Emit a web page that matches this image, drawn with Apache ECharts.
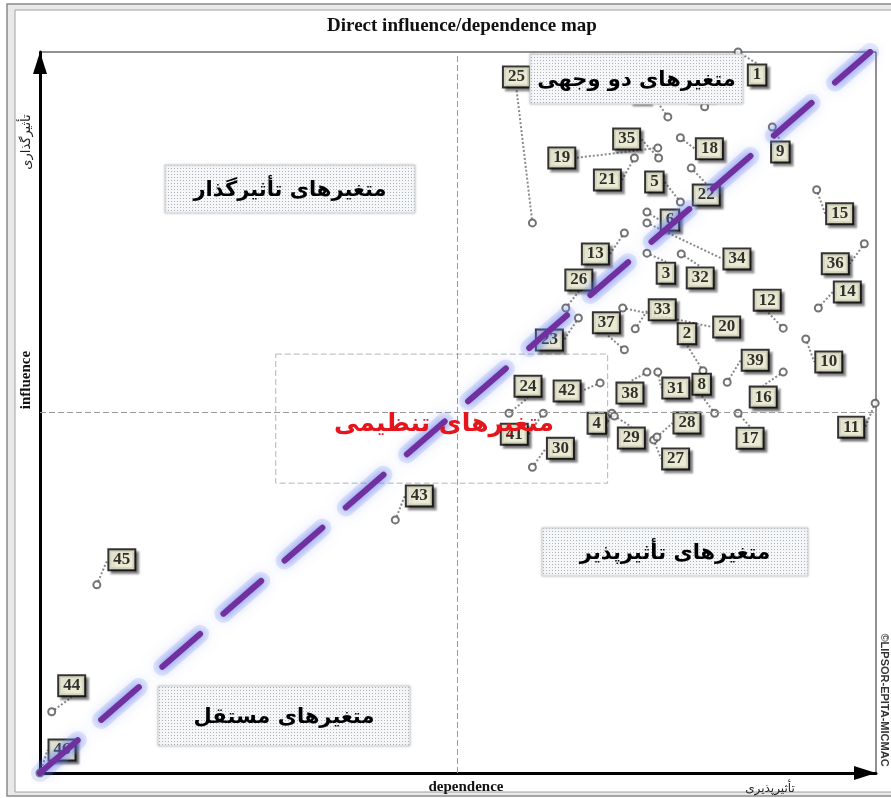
<!DOCTYPE html>
<html>
<head>
<meta charset="utf-8">
<title>Direct influence/dependence map</title>
<script src="https://cdn.jsdelivr.net/npm/echarts@6/dist/echarts.min.js"></script>
<style>
  html, body { margin: 0; padding: 0; background: #fff; }
  #chart { width: 891px; height: 798px; }
</style>
</head>
<body>
<div id="chart"></div>
<script>
// variables of the MICMAC analysis (0..100 scale)
const variables = ['1','2','3','4','5','6','7','8','9','10','11','12','13','14','15','16','17','18','19','20','21','22','23','24','25','26','27','28','29','30','31','32','33','34','35','36','37','38','39','40','41','42','43','44','45','46'];
const dependence = [83.5,79.3,72.6,68.4,76.6,72.6,75.1,80.7,87.6,91.6,99.9,88.9,69.9,93.1,92.9,88.9,83.5,76.6,73.9,69.7,71.1,77.9,64.4,56.1,58.9,62.9,73.4,73.8,68.7,58.9,73.9,76.7,71.2,72.6,74.0,98.6,69.9,72.6,82.2,79.5,60.2,67.0,42.5,1.4,6.8,0.0];
const influence  = [100.0,55.8,72.1,49.9,79.2,77.8,91.0,49.9,89.6,60.2,51.3,61.7,74.9,64.5,80.9,55.6,49.9,88.1,86.7,64.5,85.3,83.9,63.1,49.9,76.3,64.5,46.2,46.6,49.5,42.4,55.6,72.0,61.6,76.3,85.3,73.4,58.7,55.6,54.2,92.4,49.9,54.1,35.1,8.5,26.1,0.0];
const meanDependence = 49.9;
const meanInfluence = 50.1;
const diagonal = [[0, 0], [99.3, 100]];
const regulatoryZone = [[28.2, 58.1], [67.9, 40.2]];

// where each number box sits relative to its point (px)
const labelShift = [
  [19,23],[-16,-37],[19,20],[-15,10],[-26,-20],[23,8],[-28,-25],[-13,-29],[8,25],[23,23],
  [-24,24],[-16,-28],[-29,21],[29,-16],[23,24],[-20,25],[12,25],[29,11],[-96,10],[104,19],
  [-27,22],[15,27],[-29,22],[19,-27],[-16,-146],[13,-28],[22,19],[30,-14],[17,22],[28,-19],
  [18,16],[19,24],[27,-19],[90,36],[-32,-19],[-29,20],[-18,-27],[-17,21],[28,-22],[-5,-17],
  [-29,21],[-33,8],[24,-24],[20,-26],[25,-25],[22,-23]
];

const quadrantBoxes = [
  { text: 'متغیرهای دو وجهی', x: 530, y: 54, w: 213, h: 50 },
  { text: 'متغیرهای تأثیرگذار', x: 165, y: 165, w: 250, h: 48 },
  { text: 'متغیرهای تأثیرپذیر', x: 542, y: 528, w: 266, h: 48 },
  { text: 'متغیرهای مستقل', x: 158, y: 686, w: 252, h: 60 }
];

// dotted fill like the original text boxes
const pat = document.createElement('canvas');
pat.width = 3; pat.height = 3;
const pc = pat.getContext('2d');
pc.fillStyle = '#f4f6f8'; pc.fillRect(0, 0, 3, 3);
pc.fillStyle = '#aeb3b8'; pc.fillRect(0, 0, 1, 1);

const points = variables.map((v, i) => ({ name: v, value: [dependence[i], influence[i]] }));

const graphics = [
  { type: 'rect', z: -10, shape: { x: 7, y: 4, width: 900, height: 792 },
    style: { fill: '#e9e9e9', stroke: '#8a8a8a', lineWidth: 1.5 } },
  { type: 'rect', z: -9, shape: { x: 15, y: 10, width: 890, height: 782 },
    style: { fill: '#fff', stroke: '#a0a0a0', lineWidth: 1 } },
  { type: 'text', z: 50, x: 27, y: 142, rotation: Math.PI / 2,
    style: { text: 'تأثیرگذاری', font: '13px "DejaVu Sans"', fill: '#222', align: 'center', verticalAlign: 'middle' } },
  { type: 'text', z: 50, x: 26, y: 380, rotation: Math.PI / 2,
    style: { text: 'influence', font: 'bold 15px "Liberation Serif"', fill: '#111', align: 'center', verticalAlign: 'middle' } },
  { type: 'text', z: 50, x: 466, y: 787,
    style: { text: 'dependence', font: 'bold 15px "Liberation Serif"', fill: '#111', align: 'center', verticalAlign: 'middle' } },
  { type: 'text', z: 50, x: 770, y: 789,
    style: { text: 'تأثیرپذیری', font: '12px "DejaVu Sans"', fill: '#222', align: 'center', verticalAlign: 'middle' } },
  { type: 'text', z: 50, x: 884, y: 700, rotation: -Math.PI / 2,
    style: { text: '©LIPSOR-EPITA-MICMAC', font: 'bold 11px "Liberation Sans"', fill: '#333', align: 'center', verticalAlign: 'middle' } },
  { type: 'text', z: 110, x: 444, y: 424,
    style: { text: 'متغیرهای تنظیمی', font: 'bold 25px "DejaVu Sans"', fill: '#e8141c', align: 'center', verticalAlign: 'middle' } }
];
quadrantBoxes.forEach(function (b) {
  graphics.push({ type: 'rect', z: 100, shape: { x: b.x, y: b.y, width: b.w, height: b.h },
    style: { fill: { image: pat, repeat: 'repeat' }, stroke: '#d0d4d8', lineWidth: 1,
      shadowColor: 'rgba(0,0,0,0.15)', shadowBlur: 3 } });
  graphics.push({ type: 'text', z: 101, x: b.x + b.w / 2, y: b.y + b.h / 2 + 2,
    style: { text: b.text, font: 'bold 21px "DejaVu Sans"', fill: '#000', align: 'center', verticalAlign: 'middle' } });
});

const dashStyle = [50, 31];

const myChart = echarts.init(document.getElementById('chart'));
myChart.setOption({
  backgroundColor: '#fff',
  animation: false,
  title: {
    text: 'Direct influence/dependence map',
    left: 457, top: 12, textAlign: 'center',
    textStyle: { fontFamily: 'Liberation Serif', fontWeight: 'bold', fontSize: 19, color: '#111' }
  },
  grid: { left: 40, right: 15, top: 52, bottom: 25, show: true, borderColor: '#222', borderWidth: 1 },
  xAxis: {
    type: 'value', min: 0, max: 100,
    axisLine: { show: true, symbol: ['none', 'triangle'], symbolSize: [14, 22], symbolOffset: [0, -11],
      lineStyle: { color: '#000', width: 3 } },
    axisTick: { show: false }, axisLabel: { show: false }, splitLine: { show: false }
  },
  yAxis: {
    type: 'value', min: 0, max: 100,
    axisLine: { show: true, symbol: ['none', 'triangle'], symbolSize: [14, 22], symbolOffset: [0, -11],
      lineStyle: { color: '#000', width: 3 } },
    axisTick: { show: false }, axisLabel: { show: false }, splitLine: { show: false }
  },
  graphic: graphics,
  series: [
    {
      type: 'scatter',
      z: 2,
      data: points,
      symbol: 'emptyCircle',
      symbolSize: 7,
      itemStyle: { color: '#505050', borderWidth: 1.6 },
      label: {
        show: true,
        position: 'inside',
        formatter: '{b}',
        fontFamily: 'Liberation Serif',
        fontWeight: 'bold',
        fontSize: 17,
        color: '#000',
        backgroundColor: '#ffffe4',
        borderColor: '#000',
        borderWidth: 2,
        padding: [2, 4, 0, 4],
        shadowColor: 'rgba(0,0,0,0.5)',
        shadowBlur: 2,
        shadowOffsetX: 3,
        shadowOffsetY: 3
      },
      labelLayout: function (params) {
        const s = labelShift[params.dataIndex];
        return { dx: s[0], dy: s[1] };
      },
      labelLine: { show: true, lineStyle: { color: '#8a8a8a', width: 2, type: [2, 2] } },
      markLine: {
        silent: true,
        symbol: ['none', 'none'],
        label: { show: false },
        lineStyle: { color: '#9a9a9a', type: [6, 3], width: 1 },
        data: [{ xAxis: meanDependence }, { yAxis: meanInfluence }]
      },
      markArea: {
        silent: true,
        itemStyle: { color: 'rgba(0,0,0,0)', borderColor: '#b5b5b5', borderWidth: 1, borderType: [6, 3] },
        data: [[{ coord: regulatoryZone[0] }, { coord: regulatoryZone[1] }]]
      }
    },
    {
      // soft blue halo behind the diagonal
      type: 'line',
      z: 4,
      data: diagonal,
      symbol: 'none',
      silent: true,
      lineStyle: {
        color: 'rgba(130,150,235,0.2)', width: 18, type: dashStyle, cap: 'round',
        shadowColor: 'rgba(100,130,240,0.55)', shadowBlur: 16
      }
    },
    {
      type: 'line',
      z: 5,
      data: diagonal,
      symbol: 'none',
      silent: true,
      lineStyle: {
        color: '#7030a0', width: 6, type: dashStyle, cap: 'round',
        shadowColor: 'rgba(60,90,235,0.7)', shadowBlur: 8
      }
    }
  ]
});
</script>
</body>
</html>
